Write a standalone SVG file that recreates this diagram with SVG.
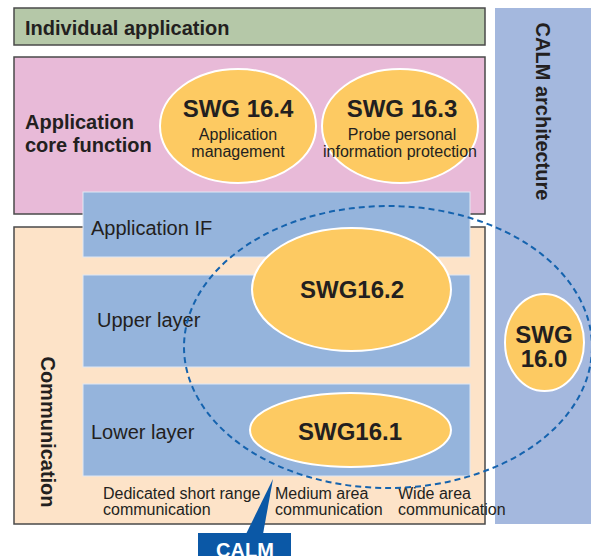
<svg xmlns="http://www.w3.org/2000/svg" width="591" height="556" viewBox="0 0 591 556">
<style>
.box{stroke:#4a4a4a;stroke-width:1.5}
.layer{fill:#95b4dc;stroke:#dfe8f4;stroke-width:1}
.swg{fill:#fdca62;stroke:#ffffff;stroke-width:2}
.t{font-family:"Liberation Sans",Arial,sans-serif;fill:#231f20}
.b{font-weight:bold}
.big{font-size:24px;font-weight:bold;text-anchor:middle}
.sub{font-size:16px;text-anchor:middle}
.lbl{font-size:20px}
.small{font-size:16px}
</style>
<rect width="591" height="556" fill="#ffffff"/>
<g id="individual-application">
<rect class="box" x="14" y="8" width="471" height="37" fill="#b5c8a8"/>
<text class="t b" x="25" y="35" font-size="20">Individual application</text>
</g>
<g id="application-core-function">
<rect class="box" x="14" y="57" width="471" height="157" fill="#e8bad8"/>
<text class="t b" x="25" y="129" font-size="20">Application</text>
<text class="t b" x="25" y="152" font-size="20">core function</text>
</g>
<g id="communication">
<rect class="box" x="14" y="227" width="471" height="297" fill="#fde3c8"/>
<text class="t b" font-size="20" text-anchor="middle" transform="translate(41,432) rotate(90)">Communication</text>
</g>
<g id="application-if">
<rect class="layer" x="83" y="192" width="387" height="65"/>
<text class="t lbl" x="91" y="235">Application IF</text>
</g>
<g id="upper-layer">
<rect class="layer" x="83" y="275" width="387" height="92"/>
<text class="t lbl" x="97" y="327">Upper layer</text>
</g>
<g id="lower-layer">
<rect class="layer" x="83" y="384" width="387" height="92"/>
<text class="t lbl" x="91" y="439">Lower layer</text>
</g>
<g id="calm-architecture">
<rect x="495" y="8" width="96" height="516" fill="#a4b8de"/>
<text class="t b" font-size="20" text-anchor="middle" transform="translate(536,111.5) rotate(90)">CALM architecture</text>
</g>
<g id="swg-16-4">
<ellipse class="swg" cx="238" cy="126" rx="78" ry="57"/>
<text class="t big" x="238" y="117">SWG 16.4</text>
<text class="t sub" x="238" y="140">Application</text>
<text class="t sub" x="238" y="157">management</text>
</g>
<g id="swg-16-3">
<ellipse class="swg" cx="400" cy="126" rx="78" ry="57"/>
<text class="t big" x="402" y="117">SWG 16.3</text>
<text class="t sub" x="402" y="140">Probe personal</text>
<text class="t sub" x="400" y="157">information protection</text>
</g>
<g id="swg-16-2">
<ellipse class="swg" cx="351.5" cy="289.5" rx="99.5" ry="61.5"/>
<text class="t big" x="352" y="298">SWG16.2</text>
</g>
<g id="swg-16-1">
<ellipse class="swg" cx="350.5" cy="430" rx="100.5" ry="37"/>
<text class="t big" x="350" y="440">SWG16.1</text>
</g>
<g id="swg-16-0">
<ellipse class="swg" cx="544.5" cy="342.5" rx="39.5" ry="48.5"/>
<text class="t big" x="544" y="343">SWG</text>
<text class="t big" x="544" y="367">16.0</text>
</g>
<g id="media-labels">
<text class="t small" x="103" y="499">Dedicated short range</text>
<text class="t small" x="103" y="515">communication</text>
<text class="t small" x="275" y="499">Medium area</text>
<text class="t small" x="275" y="515">communication</text>
<text class="t small" x="398" y="499">Wide area</text>
<text class="t small" x="398" y="515">communication</text>
</g>
<g id="connectors">
<ellipse id="calm-scope" cx="388" cy="347" rx="204" ry="141" fill="none" stroke="#1563ae" stroke-width="2" stroke-dasharray="6 4"/>
<polygon points="273,479 263,534 246,534" fill="#0b58a6"/>
</g>
<g id="calm">
<rect x="198" y="533" width="93" height="23" fill="#0b58a6"/>
<text class="b" x="245" y="557" font-family="Liberation Sans,Arial,sans-serif" font-size="20" fill="#ffffff" text-anchor="middle">CALM</text>
</g>
</svg>
